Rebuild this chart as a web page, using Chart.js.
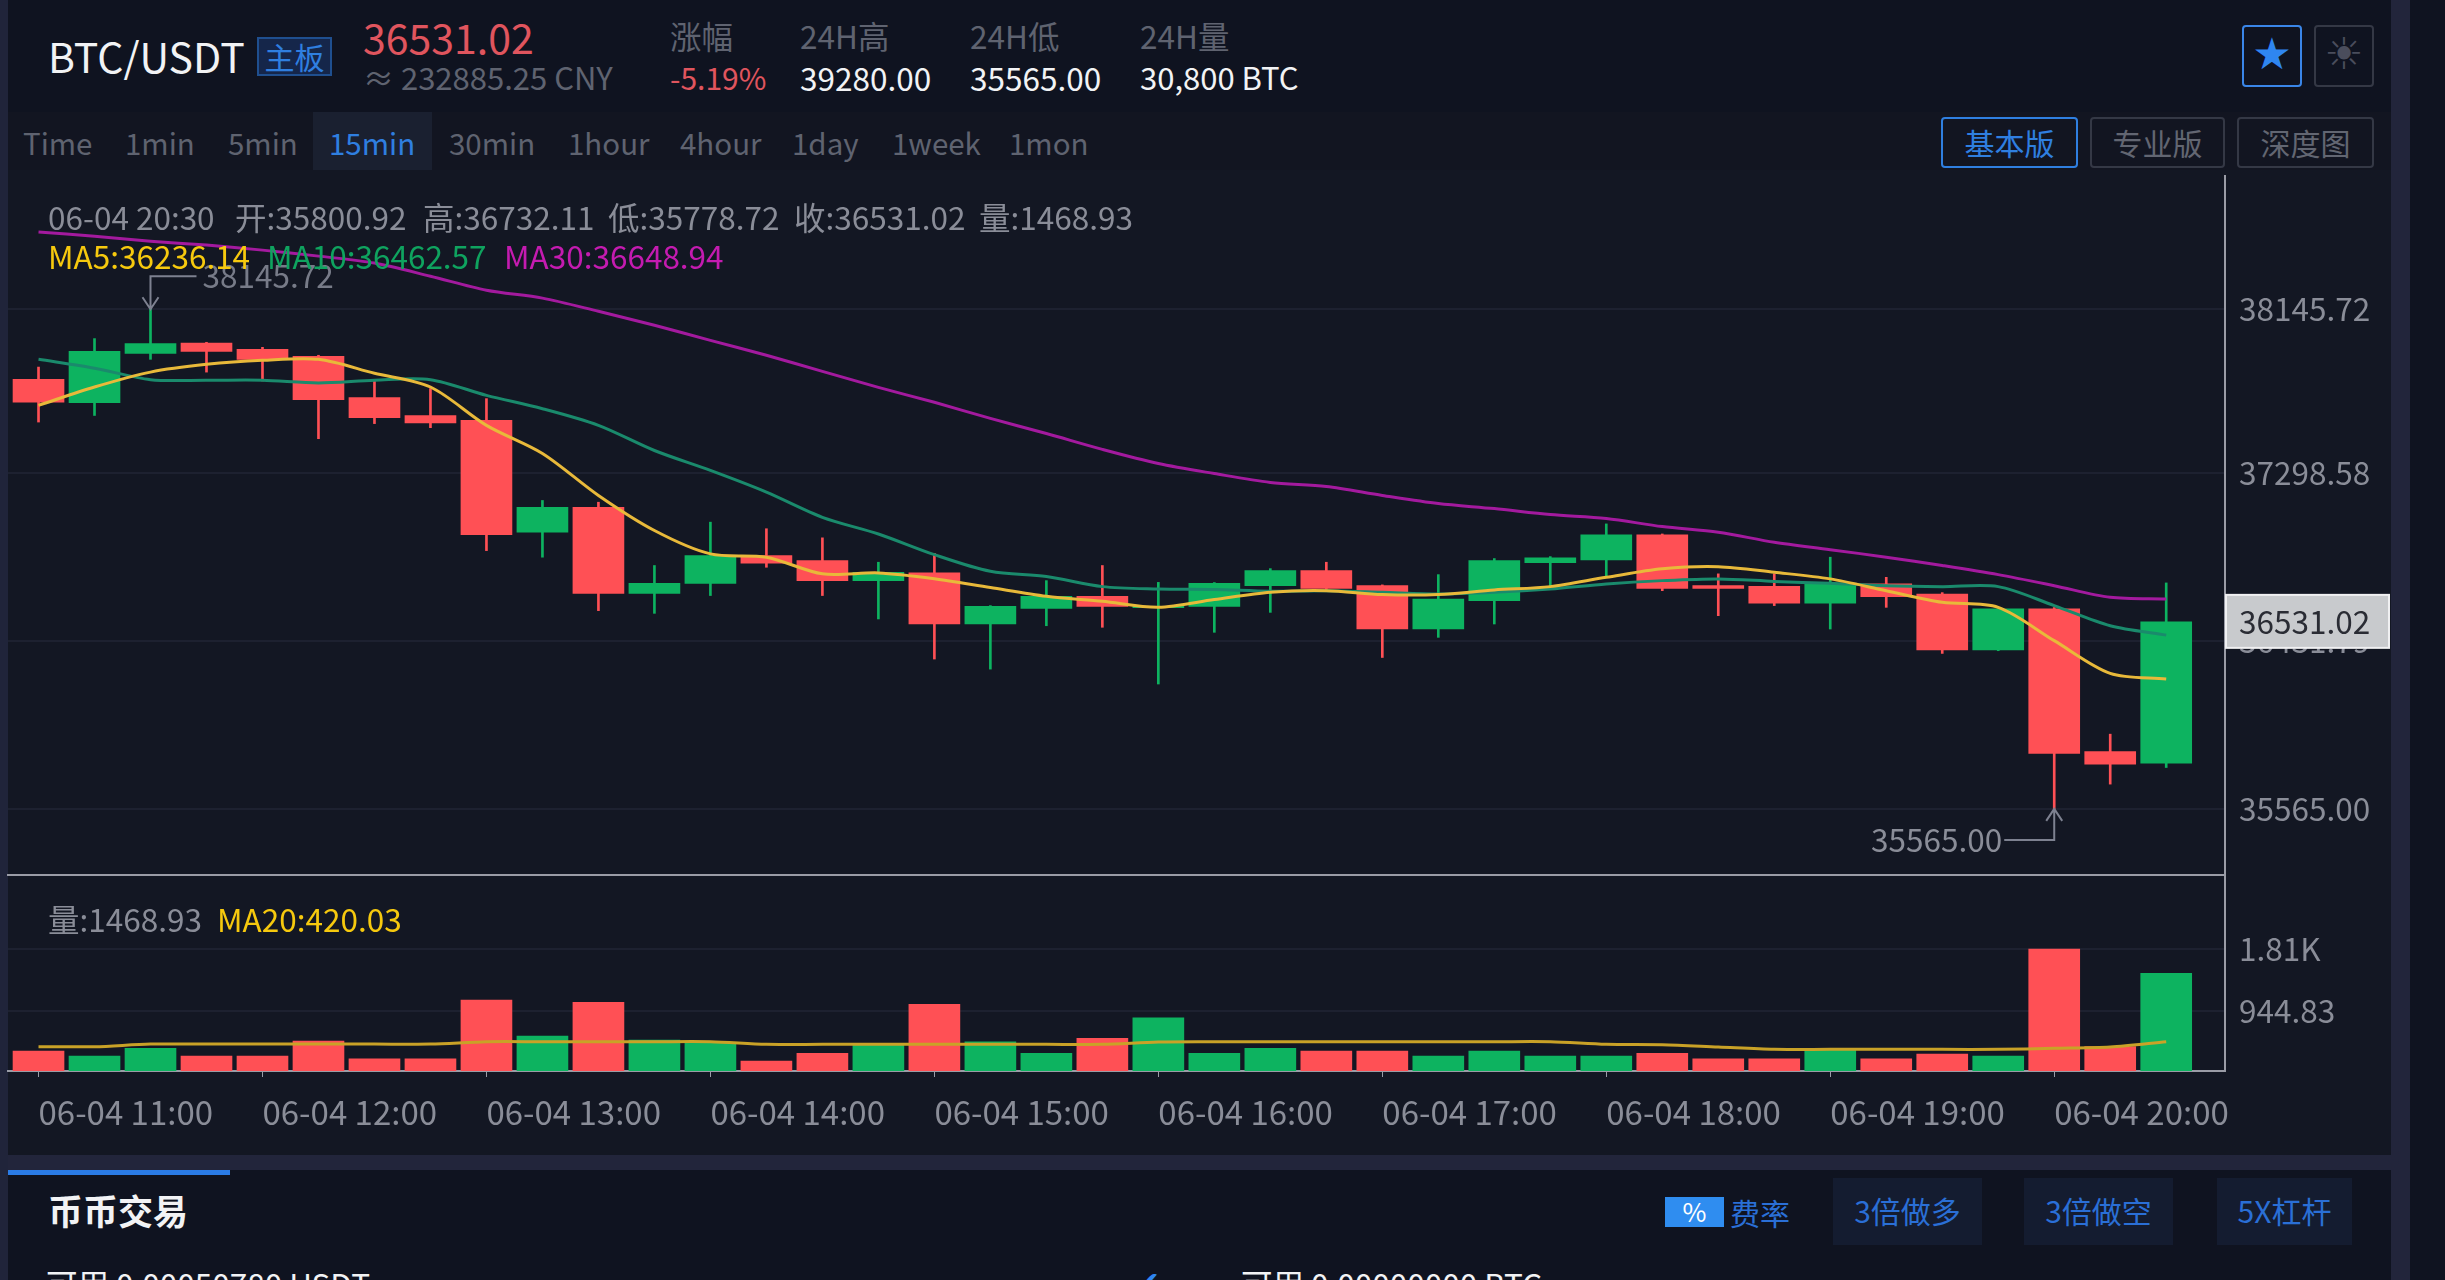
<!DOCTYPE html>
<html>
<head>
<meta charset="utf-8">
<script src="https://cdn.jsdelivr.net/npm/chart.js@4/dist/chart.umd.js"></script>
<style>
html, body { margin: 0; padding: 0; background: #0f1320; }
body { width: 2445px; height: 1280px; position: relative; overflow: hidden; font-family: "Noto Sans CJK SC", "Noto Sans", sans-serif; font-size: 31.5px; }
.t { position: absolute; white-space: nowrap; line-height: 40px; height: 40px; }
.box { position: absolute; box-sizing: border-box; }
.btn { position: absolute; box-sizing: border-box; text-align: center; white-space: nowrap; border-radius: 4px; border: 2px solid #343845; color: #626672; line-height: 47px; font-size: 30px; }
canvas { position: absolute; left: 0; }
.gray { color: #5f6370; }
.tab { font-size: 29.5px; }
.label { color: #8a8d98; }
.white { color: #f2f3f5; }
.blue { color: #2f7fe0; }
</style>
</head>
<body>
<!-- page panels -->
<div class="box" style="left:8px;top:112px;width:2383px;height:1043px;background:#131723"></div>
<div class="box" style="left:8px;top:112px;width:2383px;height:58px;background:#121521"></div>
<div class="box" style="left:0;top:0;width:8px;height:1280px;background:#20243a"></div>
<div class="box" style="left:2391px;top:0;width:19px;height:1280px;background:#22253b"></div>
<div class="box" style="left:8px;top:1155px;width:2383px;height:15px;background:#22253b"></div>
<div class="box" style="left:8px;top:1170px;width:222px;height:5px;background:#2a7be6"></div>

<canvas id="priceChart" width="2445" height="701" style="top:175px"></canvas>
<canvas id="volumeChart" width="2445" height="270" style="top:875px"></canvas>

<!-- header -->
<div class="t white" style="left:48px;top:35px;font-size:41px">BTC/USDT</div>
<div class="box blue" style="left:257px;top:37px;width:75px;height:39px;background:#15264a;border:2px solid #1f4f8f;text-align:center;line-height:34px;font-size:30px">主板</div>
<div class="t" style="left:363px;top:16px;font-size:41px;color:#e0555e">36531.02</div>
<div class="t gray" style="left:363px;top:57px;font-size:31px">≈ 232885.25 CNY</div>
<div class="t gray" style="left:670px;top:15px">涨幅</div>
<div class="t" style="left:670px;top:57px;color:#e0555e;font-size:30px">-5.19%</div>
<div class="t gray" style="left:800px;top:15px">24H高</div>
<div class="t white" style="left:800px;top:57px">39280.00</div>
<div class="t gray" style="left:970px;top:15px">24H低</div>
<div class="t white" style="left:970px;top:57px">35565.00</div>
<div class="t gray" style="left:1140px;top:15px">24H量</div>
<div class="t white" style="left:1140px;top:57px;font-size:31px">30,800 BTC</div>
<div class="btn" style="left:2242px;top:25px;width:60px;height:62px;border-color:#3a86e8;color:#2f86f0;font-size:44px;line-height:54px;font-family:'DejaVu Sans'">★</div>
<div class="btn" style="left:2314px;top:25px;width:60px;height:62px;color:#4a4d5c;font-size:44px;line-height:54px;font-family:'DejaVu Sans'">☀</div>

<!-- period tabs -->
<div class="box" style="left:313px;top:112px;width:119px;height:58px;background:#1a2030"></div>
<div class="t gray tab" style="left:23px;top:122px">Time</div>
<div class="t gray tab" style="left:125px;top:122px">1min</div>
<div class="t gray tab" style="left:228px;top:122px">5min</div>
<div class="t blue tab" style="left:329px;top:122px">15min</div>
<div class="t gray tab" style="left:449px;top:122px">30min</div>
<div class="t gray tab" style="left:568px;top:122px">1hour</div>
<div class="t gray tab" style="left:680px;top:122px">4hour</div>
<div class="t gray tab" style="left:792px;top:122px">1day</div>
<div class="t gray tab" style="left:892px;top:122px">1week</div>
<div class="t gray tab" style="left:1009px;top:122px">1mon</div>
<div class="btn blue" style="left:1941px;top:117px;width:137px;height:51px;border-color:#2f7fe0;color:#2f7fe0">基本版</div>
<div class="btn" style="left:2090px;top:117px;width:135px;height:51px">专业版</div>
<div class="btn" style="left:2237px;top:117px;width:137px;height:51px">深度图</div>

<!-- chart legends -->
<div class="t label" style="left:48px;top:196px">06-04 20:30</div>
<div class="t label" style="left:235px;top:196px">开:35800.92</div>
<div class="t label" style="left:423px;top:196px">高:36732.11</div>
<div class="t label" style="left:608px;top:196px">低:35778.72</div>
<div class="t label" style="left:794px;top:196px">收:36531.02</div>
<div class="t label" style="left:979px;top:196px">量:1468.93</div>
<div class="t" style="left:48px;top:235px;color:#f6c90e">MA5:36236.14</div>
<div class="t" style="left:267px;top:235px;color:#0fa35f">MA10:36462.57</div>
<div class="t" style="left:504px;top:235px;color:#c41bb0">MA30:36648.94</div>
<div class="t label" style="left:48px;top:898px">量:1468.93</div>
<div class="t" style="left:217px;top:898px;color:#f6c90e">MA20:420.03</div>

<!-- bottom panel -->
<div class="t white" style="left:48px;top:1190px;font-size:35px;font-weight:700">币币交易</div>
<div class="box" style="left:1665px;top:1197px;width:59px;height:30px;background:#2f8df0;color:#fff;text-align:center;line-height:28px;font-size:26px">%</div>
<div class="t blue" style="left:1730px;top:1192px;color:#2a6fd6;font-size:30px">费率</div>
<div class="box" style="left:1833px;top:1178px;width:149px;height:67px;background:#141c30;color:#2a6fd6;text-align:center;line-height:64px;font-size:30px">3倍做多</div>
<div class="box" style="left:2024px;top:1178px;width:149px;height:67px;background:#141c30;color:#2a6fd6;text-align:center;line-height:64px;font-size:30px">3倍做空</div>
<div class="box" style="left:2217px;top:1178px;width:135px;height:67px;background:#141c30;color:#2a6fd6;text-align:center;line-height:64px;font-size:30px">5X杠杆</div>
<div class="t white" style="left:46px;top:1263px">可用 0.00050780 USDT</div>
<div class="t" style="left:1135px;top:1263px;color:#2f86f0;font-size:30px;font-family:'DejaVu Sans'">✔</div>
<div class="t white" style="left:1241px;top:1263px">可用 0.00000000 BTC</div>

<script>
// 15 min candles, 06-04 11:00 .. 06-04 20:30
const opens = [37784,37663,37917,37971,37939,37903,37689,37597,37572,36994,37123,36678,36730,36873,36848,36744,36784,36520,36601,36663,36604,36611,36718,36796,36718,36494,36641,36837,36851,36981,36718,36715,36627,36727,36675,36386,36598,35861,35800.92];
const highs = [37847,37994,38145.72,37975,37949,37908,37775,37736,37684,37158,37149,36822,37046,37012,36965,36839,36885,36615,36744,36822,36735,36734,36806,36839,36722,36775,36858,36868,37037,36985,36779,36779,36865,36761,36682,36600,36605,35951,36732.11];
const lows = [37563,37597,37887,37821,37775,37477,37555,37534,36899,36865,36589,36575,36667,36813,36667,36546,36339,36287,36511,36503,36210,36477,36580,36692,36347,36451,36520,36718,36761,36692,36563,36615,36494,36606,36368,36382,35565,35693,35778.72];
const closes = [37666,37928,37968,37928,37887,37679,37586,37558,36981,37123,36678,36730,36873,36834,36744,36787,36520,36611,36663,36611,36611,36730,36796,36704,36494,36649,36848,36862,36981,36704,36704,36627,36727,36661,36386,36598,35851,35796,36531.02];

const ma5 = [37649,37744,37821,37861,37882,37887,37815,37744,37546,37401,37184,37003,36882,36865,36779,36784,36754,36708,36663,36637,36606,36646,36684,36692,36672,36672,36696,36713,36761,36805,36816,36787,36753,36692,36632,36606,36434,36265,36236.14];
const ma10 = [37887,37841,37782,37779,37779,37765,37779,37782,37701,37632,37546,37416,37313,37201,37071,36985,36878,36792,36765,36713,36701,36698,36689,36692,36684,36675,36684,36701,36727,36744,36753,36740,36730,36718,36713,36713,36615,36511,36462.57];
const ma30 = [38544,38523,38497,38477,38451,38420,38384,38316,38244,38203,38135,38063,37985,37908,37825,37742,37665,37582,37504,37422,37349,37297,37251,37230,37184,37142,37116,37085,37065,37023,36994,36942,36904,36865,36822,36775,36718,36658,36648.94];

const volumes = [379,309,417,309,309,520,271,271,1094,590,1062,534,487,239,347,464,1034,510,347,557,846,347,417,379,379,309,379,309,309,347,271,271,412,271,337,309,1810,440,1468.93];
const volumeMa20 = [440,440,477,477,477,477,477,477,510,510,510,510,510,473,473,473,473,473,473,473,506,510,510,510,510,510,510,510,473,467,435,403,403,403,403,403,417,435,510];

const priceTicks = [38145.72, 37298.58, 36431.79, 35565];
const volumeTicks = [1810, 944.83];
const volumeTickLabels = ['1.81K', '944.83'];
const timeTickIndexes = [0, 4, 8, 12, 16, 20, 24, 28, 32, 36];
const timeLabels = ['06-04 11:00','06-04 12:00','06-04 13:00','06-04 14:00','06-04 15:00','06-04 16:00','06-04 17:00','06-04 18:00','06-04 19:00','06-04 20:00'];

const lastPrice = 36531.02;
const highMark = { index: 2, value: 38145.72, label: '38145.72' };
const lowMark = { index: 36, value: 35565, label: '35565.00' };

const UP = '#0db360';
const DOWN = '#ff5055';
const AXIS = '#9a9ca6';
const GRID = '#1d2130';
const TICK = '#8a8d98';
const FONT = { family: '"Noto Sans CJK SC", "Noto Sans", sans-serif', size: 31.5 };

const candleColors = closes.map((c, i) => c >= opens[i] ? UP : DOWN);
const xy = (arr) => arr.map((v, i) => ({ x: i, y: v }));
const maLine = (arr, color, order) => ({
    type: 'line', data: xy(arr), borderColor: color, borderWidth: 3,
    pointRadius: 0, tension: 0.3, order: order,
});
const noPadding = (scale) => {
    scale.paddingTop = 0; scale.paddingBottom = 0; scale.paddingLeft = 0; scale.paddingRight = 0;
};

// the x range leaves the same empty space on the right as the original
const xBase = {
    type: 'linear', min: -0.545, max: 39.05, offset: false,
    afterBuildTicks: (scale) => { scale.ticks = timeTickIndexes.map((v) => ({ value: v })); },
};

// high / low markers and the last price tag
const marksPlugin = {
    id: 'marks',
    afterDraw(chart) {
        const { ctx, scales } = chart;
        const x = scales.x, y = scales.y;
        ctx.save();
        ctx.font = '31.5px ' + FONT.family;
        ctx.textBaseline = 'middle';
        ctx.strokeStyle = '#7d8190';
        ctx.lineWidth = 2;

        // high marker, points down at the wick
        const hx = x.getPixelForValue(highMark.index), hy = y.getPixelForValue(highMark.value);
        ctx.beginPath();
        ctx.moveTo(hx + 46, hy - 33); ctx.lineTo(hx, hy - 33); ctx.lineTo(hx, hy);
        ctx.moveTo(hx - 8, hy - 12); ctx.lineTo(hx, hy); ctx.lineTo(hx + 8, hy - 12);
        ctx.stroke();
        ctx.fillStyle = '#777b88';
        ctx.textAlign = 'left';
        ctx.fillText(highMark.label, hx + 52, hy - 33);

        // low marker, points up at the wick
        const lx = x.getPixelForValue(lowMark.index), ly = y.getPixelForValue(lowMark.value);
        ctx.beginPath();
        ctx.moveTo(lx - 50, ly + 31); ctx.lineTo(lx, ly + 31); ctx.lineTo(lx, ly);
        ctx.moveTo(lx - 8, ly + 12); ctx.lineTo(lx, ly); ctx.lineTo(lx + 8, ly + 12);
        ctx.stroke();
        ctx.fillStyle = TICK;
        ctx.textAlign = 'right';
        ctx.fillText(lowMark.label, lx - 52, ly + 31);

        // last price tag on the axis, hides the tick under it
        const py = y.getPixelForValue(lastPrice);
        const left = x.right + 1;
        ctx.fillStyle = '#c8cacd';
        ctx.fillRect(left, py - 27, 163, 53);
        ctx.strokeStyle = '#f0f0f2';
        ctx.strokeRect(left, py - 27, 163, 53);
        ctx.fillStyle = '#2a2c34';
        ctx.textAlign = 'left';
        ctx.fillText(lastPrice.toFixed(2), x.right + 14, py);
        ctx.restore();
    },
};

Chart.defaults.animation = false;
Chart.defaults.responsive = false;
Chart.defaults.devicePixelRatio = 1;
Chart.defaults.plugins.legend.display = false;
Chart.defaults.plugins.tooltip.enabled = false;

new Chart(document.getElementById('priceChart'), {
    type: 'bar',
    data: {
        datasets: [
            maLine(ma5, '#e8b93a', 0),
            maLine(ma10, '#1a8a6c', 1),
            maLine(ma30, '#a31a9e', 2),
            { data: opens.map((o, i) => ({ x: i, y: [o, closes[i]] })), backgroundColor: candleColors, barThickness: 51, grouped: false, order: 3 },
            { data: lows.map((l, i) => ({ x: i, y: [l, highs[i]] })), backgroundColor: candleColors, barThickness: 2, grouped: false, order: 4 },
        ],
    },
    options: {
        layout: { padding: { left: 8, top: 0, right: 0, bottom: 0 } },
        scales: {
            x: {
                ...xBase,
                grid: { display: false, offset: false },
                border: { color: AXIS, width: 2 },
                ticks: { display: false },
                afterFit: (scale) => { scale.height = 1; noPadding(scale); },
            },
            y: {
                position: 'right',
                min: 35223.6, max: 38839,
                afterBuildTicks: (scale) => { scale.ticks = priceTicks.map((v) => ({ value: v })); },
                grid: { color: GRID, lineWidth: 2, drawTicks: false },
                border: { color: AXIS, width: 2 },
                ticks: { color: TICK, font: FONT, padding: 14, callback: (v) => v.toFixed(2) },
                afterFit: (scale) => { scale.width = 220; noPadding(scale); },
            },
        },
    },
    plugins: [marksPlugin],
});

new Chart(document.getElementById('volumeChart'), {
    type: 'bar',
    data: {
        datasets: [
            maLine(volumeMa20, '#c9a227', 0),
            { data: xy(volumes), backgroundColor: candleColors, barThickness: 51, grouped: false, order: 1 },
        ],
    },
    options: {
        layout: { padding: { left: 8, top: 0, right: 0, bottom: 0 } },
        scales: {
            x: {
                ...xBase,
                grid: { drawOnChartArea: false, drawTicks: true, tickLength: 6, tickColor: AXIS, offset: false },
                border: { color: AXIS, width: 2 },
                ticks: {
                    color: TICK, font: { family: FONT.family, size: 33 }, padding: 16, align: 'start', maxRotation: 0, autoSkip: false,
                    callback: (v) => timeLabels[timeTickIndexes.indexOf(v)],
                },
                afterFit: (scale) => { scale.height = 74; noPadding(scale); },
            },
            y: {
                position: 'right',
                min: 99, max: 2850,
                afterBuildTicks: (scale) => { scale.ticks = volumeTicks.map((v) => ({ value: v })); },
                grid: { color: GRID, lineWidth: 2, drawTicks: false },
                border: { color: AXIS, width: 2 },
                ticks: { color: TICK, font: FONT, padding: 14, callback: (v) => volumeTickLabels[volumeTicks.indexOf(v)] },
                afterFit: (scale) => { scale.width = 220; noPadding(scale); },
            },
        },
    },
});
</script>
</body>
</html>
